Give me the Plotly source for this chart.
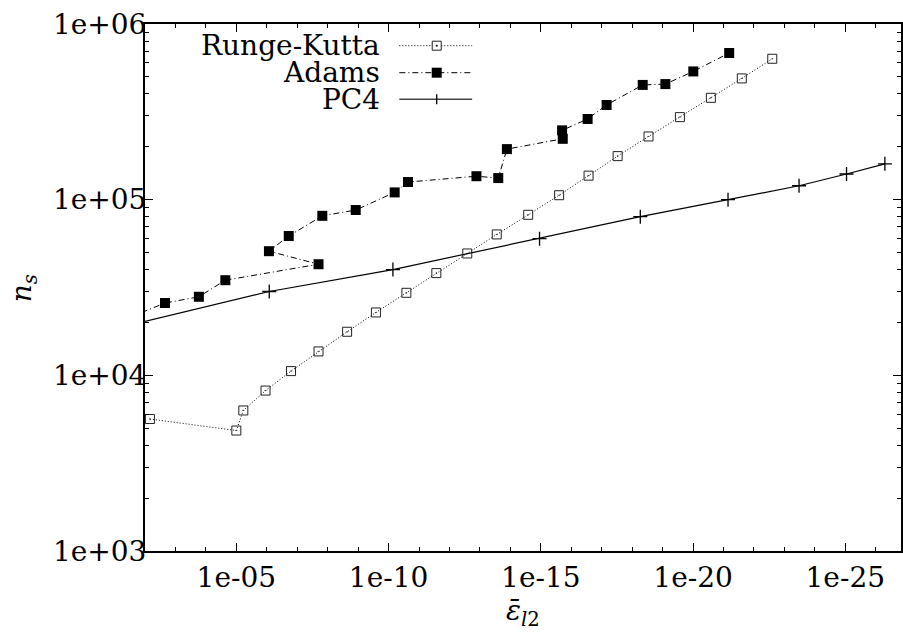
import plotly.graph_objects as go

# ---------------- data ----------------
rk_err = [6.9e-3, 1.0e-5, 5.9e-6, 1.1e-6, 1.6e-7, 2.0e-8, 2.3e-9, 2.6e-10, 2.6e-11,
          2.7e-12, 2.6e-13, 2.8e-14, 2.6e-15, 2.5e-16, 2.7e-17, 3.0e-18, 2.9e-19,
          2.7e-20, 2.6e-21, 2.5e-22, 2.5e-23]
rk_ns = [5640, 4850, 6310, 8190, 10570, 13680, 17700, 22800, 29500, 38200, 49400,
         63400, 82000, 106000, 137000, 177000, 229000, 295000, 380000, 490000, 634000]

adams_err = [3.2e-2, 2.2e-3, 1.7e-4, 2.3e-5, 2.0e-8, 8.5e-7, 1.9e-7, 1.5e-8, 1.2e-9,
             6.3e-11, 2.3e-11, 1.3e-13, 2.5e-14, 1.3e-14, 1.9e-16, 2.0e-16, 2.9e-17,
             6.9e-18, 4.5e-19, 8.1e-20, 9.8e-21, 6.5e-22]
adams_ns = [21400, 25800, 28000, 34800, 42900, 50900, 62100, 80900, 87300, 110000,
            126000, 136000, 132700, 194000, 222000, 248000, 288000, 346000, 450000,
            455000, 537000, 684000]

pc4_err = [3.2e-2, 8.3e-7, 7.2e-11, 1.1e-15, 5.4e-19, 7.1e-22, 3.3e-24, 9.1e-26, 5.0e-27]
pc4_ns = [19300, 30000, 40000, 60000, 80000, 100000, 120000, 140000, 160000]

series_names = ["Runge-Kutta", "Adams", "PC4"]

x_tickvals = [1e-5, 1e-10, 1e-15, 1e-20, 1e-25]
x_ticktext = ["1e-05", "1e-10", "1e-15", "1e-20", "1e-25"]
x_minorvals = [10.0 ** (-k) for k in range(3, 27) if k % 5 != 0]

y_tickvals = [1e3, 1e4, 1e5, 1e6]
y_ticktext = ["1e+03", "1e+04", "1e+05", "1e+06"]
y_minorvals = [m * 10.0 ** e for e in range(3, 6) for m in range(2, 10)]

# ---------------- layout constants ----------------
W, H = 903, 636
ML, MR, MT, MB = 145, 0, 24, 85
PW, PH = W - ML - MR, H - MT - MB
FONT = "DejaVu Serif"
FS = 28


def px2paper_x(px):
    return (px - ML) / PW


def px2paper_y(py):
    return (H - MB - py) / PH


fig = go.Figure()

fig.add_trace(go.Scatter(
    x=rk_err, y=rk_ns, mode="lines+markers", name=series_names[0],
    line=dict(color="black", width=1, dash="1px,2px"),
    marker=dict(symbol="square-open-dot", size=9, color="#222",
                line=dict(width=1, color="#222")),
    showlegend=False))

fig.add_trace(go.Scatter(
    x=adams_err, y=adams_ns, mode="lines+markers", name=series_names[1],
    line=dict(color="black", width=1, dash="6px,3px,1px,3px"),
    marker=dict(symbol="square", size=10, color="black"),
    showlegend=False))

fig.add_trace(go.Scatter(
    x=pc4_err, y=pc4_ns, mode="lines+markers", name=series_names[2],
    line=dict(color="black", width=1.2),
    marker=dict(symbol="cross-thin", size=10, color="black",
                line=dict(width=1.3, color="black")),
    showlegend=False))

# ---------------- manual legend (text left, sample right) ----------------
leg_rows_px = [45.7, 72.7, 99.3]
leg_text_right_px = 383
leg_line_px = (400, 473)
leg_marker_px = 437.5
shapes = []
annotations = []
dashes = ["1px,2px", "6px,3px,1px,3px", "solid"]
for i, name in enumerate(series_names):
    yp = px2paper_y(leg_rows_px[i])
    annotations.append(dict(
        x=px2paper_x(leg_text_right_px), y=yp, xref="paper", yref="paper",
        text=name, showarrow=False, xanchor="right", yanchor="middle",
        font=dict(family=FONT, size=FS, color="black")))
    shapes.append(dict(
        type="line", xref="paper", yref="paper",
        x0=px2paper_x(leg_line_px[0]), x1=px2paper_x(leg_line_px[1]), y0=yp, y1=yp,
        line=dict(color="black" if i < 2 else "#444", width=1 if i < 2 else 1.5,
                  dash=dashes[i])))
    mx = px2paper_x(leg_marker_px)
    if i == 0:
        shapes.append(dict(type="rect", xref="paper", yref="paper",
                           xsizemode="pixel", ysizemode="pixel", xanchor=mx, yanchor=yp,
                           x0=-4.5, x1=4.5, y0=-4.5, y1=4.5,
                           line=dict(color="#222", width=1), fillcolor="white"))
        shapes.append(dict(type="rect", xref="paper", yref="paper",
                           xsizemode="pixel", ysizemode="pixel", xanchor=mx, yanchor=yp,
                           x0=-0.6, x1=0.6, y0=-0.6, y1=0.6,
                           line=dict(color="#222", width=0.8), fillcolor="#222"))
    elif i == 1:
        shapes.append(dict(type="rect", xref="paper", yref="paper",
                           xsizemode="pixel", ysizemode="pixel", xanchor=mx, yanchor=yp,
                           x0=-5, x1=5, y0=-5, y1=5,
                           line=dict(color="black", width=0), fillcolor="black"))
    else:
        shapes.append(dict(type="line", xref="paper", yref="paper",
                           xsizemode="pixel", ysizemode="pixel", xanchor=mx, yanchor=yp,
                           x0=0, x1=0, y0=-5, y1=5, line=dict(color="black", width=1.3)))

# axis titles
annotations.append(dict(
    x=px2paper_x(524), y=px2paper_y(612), xref="paper", yref="paper",
    text="<i>ε̄</i><sub><i>l</i>2</sub>", showarrow=False,
    xanchor="center", yanchor="middle",
    font=dict(family=FONT, size=FS, color="black")))
annotations.append(dict(
    x=px2paper_x(23), y=px2paper_y(288), xref="paper", yref="paper",
    text="<i>n</i><sub><i>s</i></sub>", showarrow=False, textangle=-90,
    xanchor="center", yanchor="middle",
    font=dict(family=FONT, size=FS, color="black")))

fig.update_layout(
    width=W, height=H,
    margin=dict(l=ML, r=MR, t=MT, b=MB, pad=0),
    paper_bgcolor="white", plot_bgcolor="white",
    font=dict(family=FONT, size=FS, color="black"),
    shapes=shapes, annotations=annotations,
    xaxis=dict(
        type="log", range=[-2, -26.83], autorange=False,
        showgrid=False, zeroline=False,
        showline=True, linecolor="black", linewidth=2, mirror="ticks",
        ticks="inside", ticklen=8, tickwidth=1.3, tickcolor="black",
        tickvals=x_tickvals, ticktext=x_ticktext,
        ticklabelstandoff=0,
        tickfont=dict(family=FONT, size=FS, color="black"),
        minor=dict(tickvals=x_minorvals, ticks="inside", ticklen=4,
                   tickwidth=1.3, tickcolor="black", showgrid=False),
    ),
    yaxis=dict(
        type="log", range=[3, 6], autorange=False,
        showgrid=False, zeroline=False,
        showline=True, linecolor="black", linewidth=2, mirror="ticks",
        ticks="inside", ticklen=8, tickwidth=1.3, tickcolor="black",
        tickvals=y_tickvals, ticktext=y_ticktext,
        ticklabelstandoff=-9,
        tickfont=dict(family=FONT, size=FS, color="black"),
        minor=dict(tickvals=y_minorvals, ticks="inside", ticklen=4,
                   tickwidth=1.3, tickcolor="black", showgrid=False),
    ),
)

fig.write_html("out.html")
